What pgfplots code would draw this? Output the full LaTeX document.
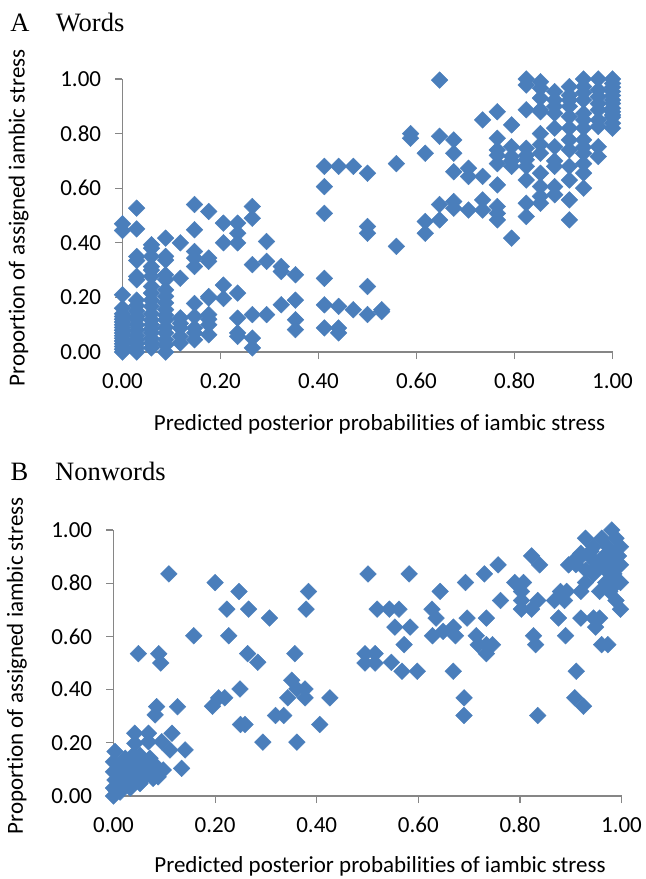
\documentclass[border=0pt]{standalone}
\usepackage{pgfplots}
\pgfplotsset{compat=1.18}
\usepackage{fontspec}
\setmainfont{Carlito}[Ligatures={NoCommon}]
\newfontfamily\timesf{Liberation Serif}
\definecolor{mk}{HTML}{4A7EBB}
\definecolor{ax}{HTML}{868686}
\pgfplotsset{
  scat/.style={
    scale only axis, clip=false,
    xmin=0, xmax=1, ymin=0, ymax=1,
    axis lines=left, axis line style={-, ax, line width=0.6pt},
    xtick={0,0.2,...,1.0}, ytick={0,0.2,...,1.0},
    tick align=outside, major tick length=3.5pt,
    tick style={ax, line width=0.6pt},
    /pgf/number format/.cd, fixed, fixed zerofill, precision=2, assume math mode=true,
    /pgfplots/.cd,
    tick label style={font=\fontsize{11.5}{14}\selectfont, inner sep=0pt},
    yticklabel style={anchor=east, xshift=-7pt},
    xticklabel style={anchor=center, yshift=-11pt},
    label style={font=\fontsize{11.5}{14}\selectfont},
  },
  mkstyle/.style={only marks, mark=square*, mark size=2.95pt,
    mark options={rotate=45, fill=mk, draw=mk, line width=0.2pt}},
}
\begin{document}
\begin{tikzpicture}
\useasboundingbox (0,0) rectangle (323pt,-439.5pt);
% Panel A
\node[anchor=base west, inner sep=0pt, font=\timesf\fontsize{13.25}{16}\selectfont] at (5pt,-15.9pt) {A};
\node[anchor=base west, inner sep=0pt, font=\timesf\fontsize{13.25}{16}\selectfont] at (27.7pt,-15.9pt) {Words};
\begin{axis}[scat, at={(61.25pt,-176pt)}, anchor=south west, width=245pt, height=136.5pt,
  xlabel={Predicted posterior probabilities of iambic stress},
  ylabel={Proportion of assigned iambic stress},
  xlabel style={at={(axis description cs:0.5245,-0.264)}, anchor=center},
  ylabel style={at={(axis description cs:-0.212,0.491)}, anchor=center, rotate=0},
]
\addplot[mkstyle] coordinates {
(0,0.47)(0,0.445)(0,0.21)(0,0.16)(0,0.14)(0,0.13)(0,0.12)(0,0.11)(0,0.10)(0,0.09)(0,0.08)(0,0.07)(0,0.06)(0,0.05)(0,0.04)(0,0.03)(0,0.02)(0,0.01)(0,0.00)
(0.029,0.527)(0.029,0.451)(0.029,0.35)(0.029,0.335)(0.029,0.277)(0.029,0.265)(0.029,0.19)(0.029,0.17)(0.029,0.15)(0.029,0.13)(0.029,0.12)(0.029,0.10)(0.029,0.08)(0.029,0.06)(0.029,0.045)(0.029,0.03)(0.029,0.015)(0.029,0.00)
(0.059,0.393)(0.059,0.38)(0.059,0.35)(0.059,0.313)(0.059,0.30)(0.059,0.277)(0.059,0.24)(0.059,0.216)(0.059,0.19)(0.059,0.167)(0.059,0.14)(0.059,0.118)(0.059,0.10)(0.059,0.085)(0.059,0.07)(0.059,0.05)(0.059,0.033)(0.059,0.015)
(0.088,0.417)(0.088,0.35)(0.088,0.337)(0.088,0.283)(0.088,0.265)(0.088,0.228)(0.088,0.204)(0.088,0.18)(0.088,0.155)(0.088,0.135)(0.088,0.118)(0.088,0.09)(0.088,0.07)(0.088,0.045)(0.088,0.025)(0.088,0.00)
(0.118,0.40)(0.118,0.27)(0.118,0.125)(0.118,0.105)(0.118,0.088)(0.118,0.057)(0.118,0.033)
(0.147,0.54)(0.147,0.448)(0.147,0.368)(0.147,0.344)(0.147,0.313)(0.147,0.178)(0.147,0.13)(0.147,0.088)(0.147,0.07)(0.147,0.045)
(0.176,0.515)(0.176,0.344)(0.176,0.332)(0.176,0.203)(0.176,0.198)(0.176,0.137)(0.176,0.12)(0.176,0.10)(0.176,0.063)
(0.206,0.472)(0.206,0.40)(0.206,0.245)(0.206,0.196)
(0.235,0.472)(0.235,0.435)(0.235,0.40)(0.235,0.216)(0.235,0.124)(0.235,0.07)(0.235,0.057)
(0.265,0.533)(0.265,0.49)(0.265,0.32)(0.265,0.137)(0.265,0.051)(0.265,0.015)
(0.294,0.405)(0.294,0.332)(0.294,0.137)
(0.324,0.313)(0.324,0.295)(0.324,0.173)
(0.353,0.283)(0.353,0.19)(0.353,0.118)(0.353,0.082)
(0.412,0.68)(0.412,0.606)(0.412,0.508)(0.412,0.27)(0.412,0.173)(0.412,0.088)
(0.441,0.68)(0.441,0.167)(0.441,0.088)(0.441,0.07)
(0.471,0.68)(0.471,0.155)
(0.5,0.655)(0.5,0.46)(0.5,0.435)(0.5,0.24)(0.5,0.137)
(0.529,0.155)(0.529,0.148)
(0.559,0.69)(0.559,0.387)
(0.588,0.80)(0.588,0.783)
(0.618,0.728)(0.618,0.478)(0.618,0.435)
(0.647,0.996)(0.647,0.79)(0.647,0.54)(0.647,0.484)
(0.676,0.777)(0.676,0.728)(0.676,0.66)(0.676,0.551)(0.676,0.527)
(0.706,0.673)(0.706,0.643)(0.706,0.52)
(0.735,0.85)(0.735,0.643)(0.735,0.557)(0.735,0.52)
(0.765,0.88)(0.765,0.783)(0.765,0.74)(0.765,0.72)(0.765,0.69)(0.765,0.612)(0.765,0.533)(0.765,0.508)(0.765,0.484)
(0.794,0.832)(0.794,0.752)(0.794,0.716)(0.794,0.70)(0.794,0.68)(0.794,0.417)
(0.824,1.0)(0.824,0.978)(0.824,0.887)(0.824,0.746)(0.824,0.72)(0.824,0.704)(0.824,0.68)(0.824,0.63)(0.824,0.545)(0.824,0.496)
(0.853,0.99)(0.853,0.966)(0.853,0.93)(0.853,0.887)(0.853,0.88)(0.853,0.80)(0.853,0.76)(0.853,0.728)(0.853,0.655)(0.853,0.606)(0.853,0.57)(0.853,0.545)
(0.882,0.954)(0.882,0.923)(0.882,0.90)(0.882,0.874)(0.882,0.82)(0.882,0.752)(0.882,0.70)(0.882,0.68)(0.882,0.606)(0.882,0.576)
(0.912,0.972)(0.912,0.94)(0.912,0.923)(0.912,0.90)(0.912,0.862)(0.912,0.82)(0.912,0.777)(0.912,0.74)(0.912,0.68)(0.912,0.63)(0.912,0.557)(0.912,0.484)
(0.941,1.0)(0.941,0.972)(0.941,0.95)(0.941,0.923)(0.941,0.874)(0.941,0.85)(0.941,0.82)(0.941,0.777)(0.941,0.75)(0.941,0.728)(0.941,0.69)(0.941,0.655)(0.941,0.60)
(0.971,1.0)(0.971,0.96)(0.971,0.935)(0.971,0.91)(0.971,0.887)(0.971,0.85)(0.971,0.826)(0.971,0.752)(0.971,0.716)
(1,1.0)(1,0.984)(1,0.97)(1,0.954)(1,0.94)(1,0.923)(1,0.91)(1,0.893)(1,0.88)(1,0.868)(1,0.86)(1,0.838)(1,0.82)
};
\end{axis}
% Panel B
\node[anchor=base west, inner sep=0pt, font=\timesf\fontsize{13.25}{16}\selectfont] at (5.15pt,-240.35pt) {B};
\node[anchor=base west, inner sep=0pt, font=\timesf\fontsize{13.25}{16}\selectfont] at (27.4pt,-240.35pt) {Nonwords};
\begin{axis}[scat, at={(56.75pt,-398pt)}, anchor=south west, width=254pt, height=133pt,
  xlabel={Predicted posterior probabilities of iambic stress},
  ylabel={Proportion of assigned iambic stress},
  xlabel style={at={(axis description cs:0.5246,-0.263)}, anchor=center},
  ylabel style={at={(axis description cs:-0.19,0.489)}, anchor=center, rotate=0},
]
\addplot[mkstyle] coordinates {
(0.003,0.167)(0,0.129)(0.023,0.142)(0.039,0.154)(0.052,0.154)(0.072,0.142)(0.059,0.117)(0.085,0.11)(0.098,0.098)(0,0.091)(0.016,0.105)(0.033,0.098)(0.046,0.085)(0.065,0.079)(0.078,0.066)(0.003,0.06)(0.02,0.066)(0.039,0.06)(0.052,0.047)(0,0.03)(0.016,0.036)(0.033,0.03)(0,0)(0.013,0.015)(0.059,0.066)(0.088,0.072)(0.026,0.08)(0.045,0.12)(0.01,0.05)(0.03,0.12)(0.07,0.10)(0.005,0.02)
(0.042,0.236)(0.069,0.236)(0.042,0.198)(0.069,0.204)(0.095,0.204)(0.115,0.236)(0.111,0.173)(0.134,0.104)(0.141,0.173)(0.085,0.336)(0.126,0.336)(0.082,0.305)
(0.109,0.835)(0.049,0.535)(0.089,0.535)(0.093,0.50)
(0.158,0.6025)(0.20,0.8025)(0.247,0.769)(0.223,0.7025)(0.266,0.7025)(0.307,0.669)(0.227,0.6025)(0.264,0.535)(0.284,0.5025)(0.195,0.3375)(0.207,0.369)(0.219,0.369)(0.249,0.4025)(0.25,0.269)(0.259,0.269)(0.294,0.2025)(0.319,0.3025)(0.335,0.3025)(0.343,0.369)(0.351,0.435)(0.357,0.535)(0.361,0.4025)(0.377,0.4025)(0.377,0.369)(0.361,0.2025)(0.379,0.7025)(0.384,0.769)(0.406,0.269)(0.426,0.369)
(0.501,0.835)(0.582,0.835)(0.519,0.7025)(0.543,0.7025)(0.562,0.7025)(0.554,0.635)(0.584,0.635)(0.572,0.569)(0.495,0.535)(0.515,0.535)(0.495,0.50)(0.515,0.50)(0.547,0.5025)(0.568,0.469)(0.598,0.469)
(0.643,0.769)(0.627,0.7025)(0.635,0.669)(0.628,0.6025)(0.649,0.619)(0.669,0.635)(0.673,0.6025)(0.669,0.469)(0.69,0.369)(0.69,0.3025)(0.693,0.8025)(0.696,0.669)(0.73,0.835)(0.734,0.669)(0.714,0.6025)(0.718,0.569)(0.734,0.569)(0.734,0.535)(0.746,0.569)(0.757,0.869)(0.762,0.735)
(0.79,0.8025)(0.807,0.8025)(0.803,0.769)(0.803,0.735)(0.803,0.7025)(0.823,0.7025)(0.835,0.735)(0.823,0.9025)(0.839,0.869)(0.827,0.6025)(0.831,0.569)(0.835,0.3025)
(0.868,0.735)(0.876,0.669)(0.88,0.769)(0.892,0.769)(0.888,0.735)(0.89,0.6025)(0.896,0.869)(0.908,0.8875)(0.911,0.469)(0.908,0.369)(0.925,0.3375)(0.92,0.669)(0.945,0.669)(0.949,0.635)(0.957,0.669)(0.92,0.769)(0.929,0.8025)(0.945,0.835)(0.929,0.969)(0.945,0.9375)(0.92,0.9125)(0.937,0.9025)(0.949,0.8775)(0.957,0.769)(0.961,0.569)(0.973,0.569)(0.969,0.8025)(0.977,0.835)
(0.961,0.969)(0.973,0.9375)(0.981,1.0)(0.989,0.969)(0.998,0.9375)(0.994,0.9025)(0.986,0.869)(0.998,0.869)(0.977,0.769)(0.989,0.735)(0.998,0.7025)(0.998,0.8025)
(0.965,0.90)(0.975,0.87)(0.985,0.835)(0.99,0.80)(0.97,0.85)(0.98,0.92)(0.96,0.88)(0.95,0.86)(0.93,0.85)(0.91,0.87)(0.94,0.92)(0.915,0.89)
};
\end{axis}
\end{tikzpicture}
\end{document}
